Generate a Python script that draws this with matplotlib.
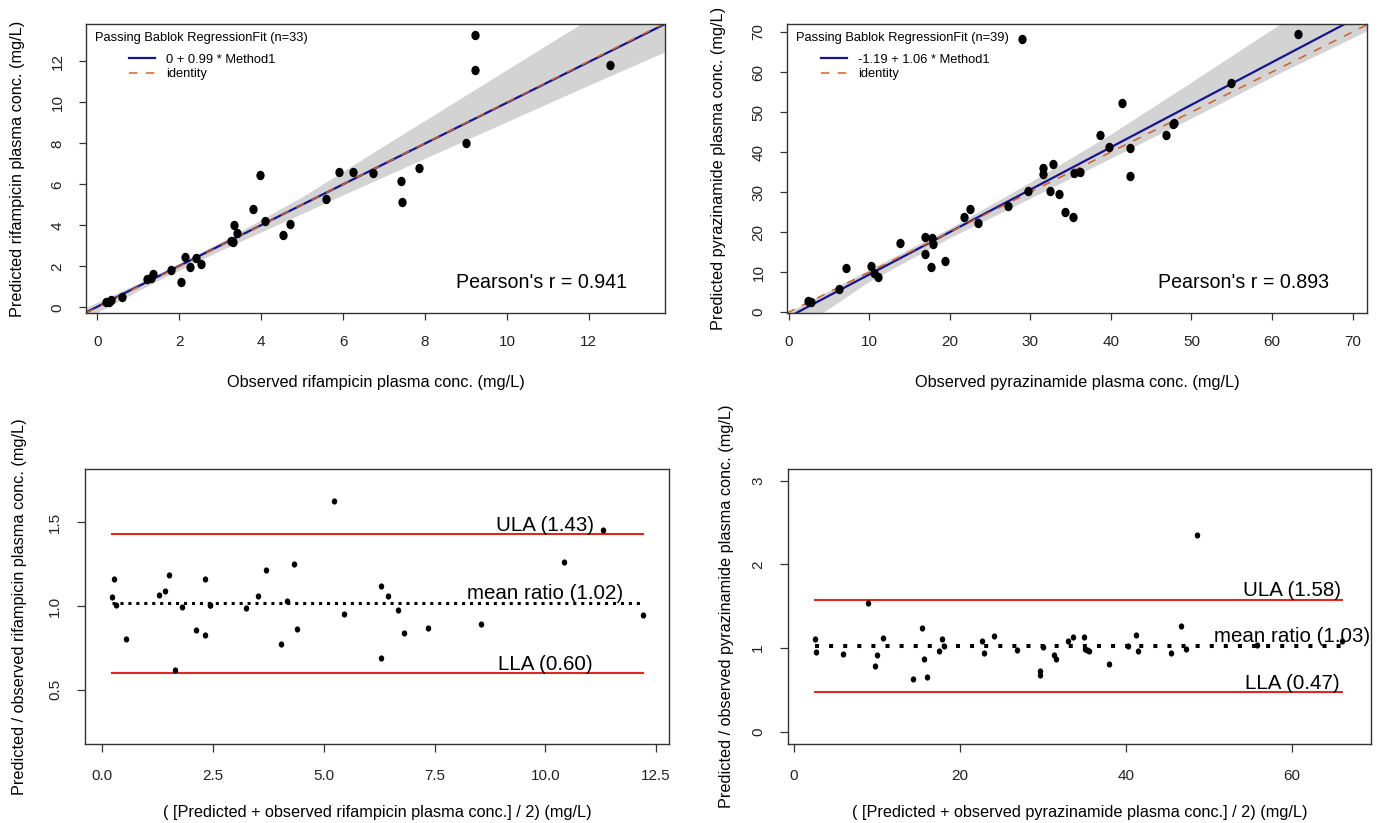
import matplotlib
matplotlib.use("Agg")
import matplotlib.pyplot as plt
from matplotlib.path import Path
from matplotlib.ticker import FormatStrFormatter
import numpy as np

plt.rcParams.update({
    "font.family": ["Liberation Sans", "DejaVu Sans"],
    "axes.linewidth": 1.0,
    "axes.edgecolor": "#333333",
    "xtick.color": "#333333",
    "ytick.color": "#333333",
    "xtick.labelcolor": "#222222",
    "ytick.labelcolor": "#222222",
    "xtick.labelsize": 11,
    "ytick.labelsize": 11,
    "axes.labelsize": 11.7,
})

W, H = 1384, 823

# --- rifampicin: observed vs predicted (n=33) ---
rif_obs = [0.22, 0.27, 0.33, 0.59, 1.22, 1.30, 1.36, 1.80, 2.03, 2.13, 2.27,
           2.40, 2.54, 3.27, 3.30, 3.33, 3.41, 3.81, 3.97, 4.09, 4.52, 4.70,
           5.58, 5.90, 6.24, 6.73, 7.41, 7.44, 7.86, 9.00, 9.21, 9.21, 12.52]
rif_pred = [0.26, 0.28, 0.33, 0.50, 1.37, 1.45, 1.63, 1.80, 1.25, 2.47, 1.95,
            2.42, 2.10, 3.24, 3.20, 4.03, 3.63, 4.78, 6.44, 4.23, 3.51, 4.07,
            5.30, 6.60, 6.60, 6.57, 6.18, 5.12, 6.78, 8.03, 13.28, 11.58, 11.82]
rif_fit = (0.03, 0.995)          # intercept, slope of the drawn line
rif_fit_label = "0 + 0.99 * Method1"
rif_r = 0.941
# confidence band edges, read at a few x positions
rif_band_x = [-0.3, 1.5, 3.0, 5.0, 6.9, 11.8, 13.9]
rif_band_lo = [-0.55, 1.33, 2.77, 4.58, 6.29, 10.66, 12.5]
rif_band_hi = [-0.03, 1.64, 3.17, 5.39, 7.76, 13.82, 16.4]

# --- pyrazinamide: observed vs predicted (n=39) ---
pza_obs = [2.40, 2.75, 6.21, 7.09, 10.17, 10.6, 11.1, 13.8, 16.88, 16.99,
           17.81, 17.87, 17.7, 19.41, 21.83, 22.54, 23.53, 27.21, 29.0, 29.69,
           31.56, 31.61, 32.44, 32.77, 33.59, 34.36, 35.29, 35.4, 36.17, 38.65,
           39.75, 41.4, 42.39, 42.33, 46.89, 47.77, 47.9, 54.87, 63.28]
pza_pred = [2.80, 2.62, 5.88, 10.95, 11.45, 9.9, 8.8, 17.2, 14.6, 18.75,
            18.43, 17.1, 11.28, 12.8, 23.67, 25.83, 22.2, 26.58, 68.3, 30.2,
            35.97, 34.64, 30.22, 37.05, 29.56, 24.98, 23.9, 34.72, 35.14, 44.38,
            41.3, 52.29, 41.13, 34.14, 44.3, 47.04, 47.3, 57.37, 69.44]
pza_fit = (-1.19, 1.06)
pza_fit_label = "-1.19 + 1.06 * Method1"
pza_r = 0.893
pza_band_x = [-0.3, 4.3, 10, 20, 30, 40, 50, 61, 72]
pza_band_lo = [-4.4, 0.0, 7.7, 18.6, 28.5, 38.5, 48.5, 59.8, 70.5]
pza_band_hi = [-0.3, 4.6, 10.7, 21.0, 32.5, 44.5, 57.5, 72.0, 86.0]

# --- ratio plots: mean of predicted+observed vs predicted/observed ---
rif_mean = [0.23, 0.26, 0.31, 0.54, 1.28, 1.41, 1.50, 1.65, 1.81, 2.12, 2.31,
            2.32, 2.42, 2.44, 3.25, 3.52, 3.69, 4.03, 4.16, 4.32, 4.39, 5.22,
            5.46, 6.28, 6.29, 6.44, 6.67, 6.82, 7.36, 8.54, 10.43, 11.29, 12.21]
rif_ratio = [1.052, 1.162, 1.004, 0.80, 1.068, 1.088, 1.188, 0.615, 0.994,
             0.854, 1.164, 0.824, 1.004, 1.008, 0.986, 1.058, 1.214, 0.77,
             1.03, 1.25, 0.862, 1.627, 0.954, 1.122, 0.69, 1.062, 0.978,
             0.836, 0.866, 0.894, 1.263, 1.453, 0.948]
rif_limits = {"ULA": 1.43, "mean ratio": 1.02, "LLA": 0.60}

pza_mean = [2.55, 2.68, 5.95, 8.95, 9.84, 10.04, 10.76, 14.4, 15.42, 15.66,
            16.02, 17.5, 17.83, 18.07, 22.69, 22.85, 24.13, 26.87, 29.6, 29.6,
            29.96, 31.33, 31.57, 33.05, 33.65, 34.94, 35.06, 35.3, 35.6, 38.0,
            40.3, 41.2, 41.5, 45.4, 46.6, 47.2, 48.5, 55.8, 66.0]
pza_ratio = [1.112, 0.957, 0.929, 1.536, 0.786, 0.914, 1.117, 0.63, 1.244,
             0.866, 0.654, 0.962, 1.105, 1.025, 1.081, 0.945, 1.145, 0.974,
             0.726, 0.678, 1.017, 0.921, 0.873, 1.089, 1.136, 1.129, 0.986,
             0.98, 0.968, 0.81, 1.03, 1.15, 0.965, 0.945, 1.26, 0.99, 2.35,
             1.04, 1.09]
pza_limits = {"ULA": 1.58, "mean ratio": 1.03, "LLA": 0.47}

BLUE = "#16168a"
ORANGE = "#d0602a"
RED = "#e0261e"
GRAY = "#d3d3d3"

# slightly tall dots, like the original
_c = Path.unit_circle()
DOT = Path(_c.vertices * np.array([0.88, 1.0]), _c.codes)

fig = plt.figure(figsize=(W / 100, H / 100), dpi=100)


def add_ax(box):
    l, t, r, b = box
    return fig.add_axes([l / W, 1 - b / H, (r - l) / W, (b - t) / H])


def style(ax, box, xlab, ylab, xlab_y, ylab_x, tlen, xpad, ypad):
    l, t, r, b = box
    ax.tick_params(direction="out", length=tlen, width=0.9)
    ax.tick_params(axis="x", pad=xpad)
    ax.tick_params(axis="y", pad=ypad, labelrotation=90)
    plt.setp(ax.get_yticklabels(), va="center")
    ax.set_xlabel(xlab)
    ax.set_ylabel(ylab)
    ax.xaxis.label.set_va("center")
    ax.yaxis.label.set_va("center")
    ax.xaxis.set_label_coords(0.5, (b - xlab_y) / (b - t))
    ax.yaxis.set_label_coords((ylab_x - l) / (r - l), 0.5)


def frac(box, px, py):
    l, t, r, b = box
    return (px - l) / (r - l), (b - py) / (b - t)


def scatter_panel(box, obs, pred, fit, fit_label, r, bx, blo, bhi, lims,
                  ticks, xlab, ylab, ylab_x, leg_px):
    ax = add_ax(box)
    ax.fill_between(bx, blo, bhi, color=GRAY, lw=0, zorder=1)
    reg = ax.axline((0, fit[0]), slope=fit[1], color=BLUE, lw=1.6, zorder=2)
    ident = ax.axline((0, 0), slope=1, color=ORANGE, lw=1.1,
                      linestyle=(0, (5.5, 5.5)), zorder=2.5)
    ax.scatter(obs, pred, s=46, marker=DOT, color="black", linewidths=0, zorder=3)
    ax.set_xlim(lims[0])
    ax.set_ylim(lims[1])
    ax.set_xticks(ticks)
    ax.set_yticks(ticks)
    style(ax, box, xlab, ylab, 383, ylab_x, 5, 10.5, 10.5)

    tx, hx = leg_px
    ax.text(*frac(box, tx, 38), f"Passing Bablok RegressionFit (n={len(obs)})",
            transform=ax.transAxes, fontsize=9.3, ha="left", va="center")
    ax.legend([reg, ident], [fit_label, "identity"], loc="upper left",
              bbox_to_anchor=frac(box, hx, 53.5), borderaxespad=0, borderpad=0,
              frameon=False, fontsize=9.3, handlelength=2.0,
              handletextpad=0.9, labelspacing=0.2)
    ax.text(0.935, frac(box, 0, 283)[1], f"Pearson's r = {r:.3f}",
            transform=ax.transAxes, fontsize=14.1, ha="right", va="center")
    return ax


def ratio_panel(box, mean, ratio, limits, text_x, lims, xticks, yticks,
                fmt, xlab, ylab, ylab_x, dots):
    ax = add_ax(box)
    x0, x1 = min(mean), max(mean)
    for name, val in limits.items():
        if name == "mean ratio":
            ax.plot([x0, x1], [val, val], color="black", lw=dots[0],
                    linestyle=(0, (1, dots[1])), dash_capstyle="butt", zorder=2)
        else:
            ax.plot([x0, x1], [val, val], color=RED, lw=1.5, zorder=2)
        ax.annotate(f"{name} ({val:.2f})", xy=(text_x, val), xytext=(0, 2.3),
                    textcoords="offset points", ha="center", va="baseline",
                    fontsize=14.8, zorder=4)
    ax.scatter(mean, ratio, s=20, marker=DOT, color="black", linewidths=0, zorder=3)
    ax.set_xlim(lims[0])
    ax.set_ylim(lims[1])
    ax.set_xticks(xticks)
    ax.set_yticks(yticks)
    if fmt:
        ax.xaxis.set_major_formatter(FormatStrFormatter(fmt))
        ax.yaxis.set_major_formatter(FormatStrFormatter(fmt))
    style(ax, box, xlab, ylab, 812, ylab_x, 6, 12, 10.5)
    return ax


scatter_panel((86, 24, 665, 313), rif_obs, rif_pred, rif_fit, rif_fit_label,
              rif_r, rif_band_x, rif_band_lo, rif_band_hi,
              ((-0.28, 13.86), (-0.28, 13.82)), np.arange(0, 13, 2),
              "Observed rifampicin plasma conc. (mg/L)",
              "Predicted rifampicin plasma conc. (mg/L)", 18, (95, 129))

scatter_panel((787, 24, 1367, 313), pza_obs, pza_pred, pza_fit, pza_fit_label,
              pza_r, pza_band_x, pza_band_lo, pza_band_hi,
              ((-0.2, 71.8), (-0.2, 72.0)), np.arange(0, 71, 10),
              "Observed pyrazinamide plasma conc. (mg/L)",
              "Predicted pyrazinamide plasma conc. (mg/L)", 719, (796, 821))

ratio_panel((85, 469, 669, 744), rif_mean, rif_ratio, rif_limits, 10.0,
            ((-0.39, 12.79), (0.174, 1.82)), np.arange(0, 12.6, 2.5),
            [0.5, 1.0, 1.5], "%.1f",
            "( [Predicted + observed rifampicin plasma conc.] / 2) (mg/L)",
            "Predicted / observed rifampicin plasma conc. (mg/L)", 20, (2.2, 1.6))

ratio_panel((788, 469, 1371, 744), pza_mean, pza_ratio, pza_limits, 60.0,
            ((-0.69, 69.5), (-0.147, 3.14)), [0, 20, 40, 60], [0, 1, 2, 3],
            None,
            "( [Predicted + observed pyrazinamide plasma conc.] / 2) (mg/L)",
            "Predicted / observed pyrazinamide plasma conc. (mg/L)", 726, (2.9, 2.5))

fig.savefig("out.png", dpi=100, facecolor="white")
